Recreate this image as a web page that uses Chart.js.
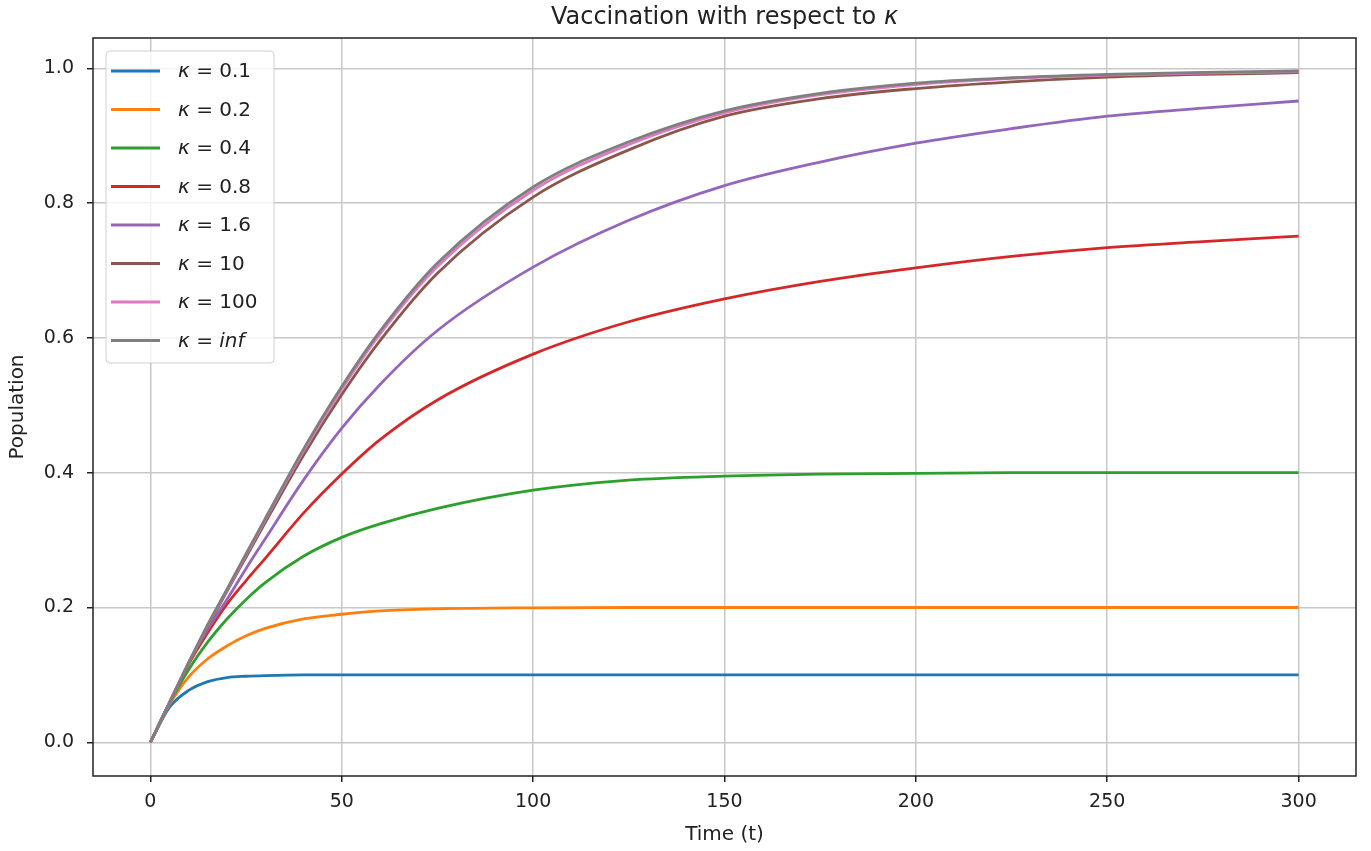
<!DOCTYPE html>
<html>
<head>
<meta charset="utf-8">
<title>Vaccination with respect to kappa</title>
<script src="https://cdn.jsdelivr.net/npm/chart.js@4.4.0/dist/chart.umd.min.js"></script>
<style>
  html, body { margin: 0; padding: 0; background: #fff; }
  #wrap { width: 1371px; height: 851px; }
</style>
</head>
<body>
<div id="wrap"><canvas id="chart" width="1371" height="851"></canvas></div>
<script>
// time samples (t)
const times = [0, 5, 10, 15, 20, 25, 30, 40, 50, 60, 75, 100, 125, 150, 175, 200, 225, 250, 275, 300];

// population per kappa value
const kappa01  = [0, 0.052, 0.077, 0.090, 0.096, 0.098, 0.099, 0.100, 0.100, 0.100, 0.100, 0.100, 0.100, 0.100, 0.100, 0.100, 0.100, 0.100, 0.100, 0.100];
const kappa02  = [0, 0.056, 0.097, 0.124, 0.143, 0.158, 0.169, 0.183, 0.190, 0.195, 0.198, 0.1995, 0.200, 0.200, 0.200, 0.200, 0.200, 0.200, 0.200, 0.200];
const kappa04  = [0, 0.058, 0.108, 0.149, 0.183, 0.212, 0.237, 0.276, 0.304, 0.324, 0.347, 0.374, 0.389, 0.395, 0.398, 0.399, 0.400, 0.400, 0.400, 0.400];
const kappa08  = [0, 0.059, 0.116, 0.163, 0.205, 0.240, 0.273, 0.340, 0.398, 0.449, 0.508, 0.576, 0.624, 0.658, 0.684, 0.704, 0.721, 0.734, 0.743, 0.751];
const kappa16  = [0, 0.059, 0.118, 0.168, 0.212, 0.258, 0.302, 0.389, 0.466, 0.531, 0.611, 0.705, 0.7745, 0.826, 0.861, 0.889, 0.9105, 0.929, 0.941, 0.9515];
const kappa10  = [0, 0.059, 0.118, 0.172, 0.224, 0.275, 0.326, 0.426, 0.516, 0.596, 0.696, 0.809, 0.879, 0.929, 0.955, 0.970, 0.980, 0.987, 0.991, 0.9935];
const kappa100 = [0, 0.059, 0.118, 0.174, 0.226, 0.278, 0.330, 0.432, 0.524, 0.606, 0.706, 0.819, 0.887, 0.934, 0.961, 0.976, 0.985, 0.990, 0.993, 0.995];
const kappaInf = [0, 0.059, 0.118, 0.175, 0.227, 0.280, 0.332, 0.435, 0.528, 0.610, 0.711, 0.824, 0.891, 0.937, 0.963, 0.978, 0.986, 0.991, 0.994, 0.996];

const seriesValues = [kappa01, kappa02, kappa04, kappa08, kappa16, kappa10, kappa100, kappaInf];
const seriesLabels = ['0.1', '0.2', '0.4', '0.8', '1.6', '10', '100', 'inf'];
const seriesColors = ['#1f77b4', '#ff7f0e', '#2ca02c', '#d62728', '#9467bd', '#8c564b', '#e377c2', '#7f7f7f'];

const xTicks = [0, 50, 100, 150, 200, 250, 300];
const yTicks = [0, 0.2, 0.4, 0.6, 0.8, 1.0];

const FONT = '"DejaVu Sans", sans-serif';
Chart.defaults.font.family = FONT;

// draw text pieces, some in italic (math kappa / inf)
function richWidth(ctx, parts, size) {
    let w = 0;
    parts.forEach(([txt, italic]) => {
        ctx.font = (italic ? 'italic ' : '') + size + 'px ' + FONT;
        w += ctx.measureText(txt).width;
    });
    return w;
}
function drawRich(ctx, parts, x, y, size) {
    parts.forEach(([txt, italic]) => {
        ctx.font = (italic ? 'italic ' : '') + size + 'px ' + FONT;
        ctx.fillText(txt, x, y);
        x += ctx.measureText(txt).width;
    });
}

const decor = {
    id: 'decor',
    afterDraw(chart) {
        const { ctx, chartArea: a } = chart;
        ctx.save();

        // axes frame
        ctx.strokeStyle = '#222';
        ctx.lineWidth = 1.5;
        ctx.strokeRect(a.left, a.top, a.right - a.left, a.bottom - a.top);

        // title
        ctx.fillStyle = '#222';
        ctx.textBaseline = 'alphabetic';
        const title = [['Vaccination with respect to ', false], ['κ', true]];
        const tw = richWidth(ctx, title, 24);
        drawRich(ctx, title, (a.left + a.right) / 2 - tw / 2, 24, 24);

        // legend box (upper left, inside the axes)
        ctx.beginPath();
        ctx.roundRect(106, 51, 168, 312, 4);
        ctx.fillStyle = 'rgba(255,255,255,0.8)';
        ctx.fill();
        ctx.strokeStyle = '#d0d0d0';
        ctx.lineWidth = 1;
        ctx.stroke();

        ctx.textBaseline = 'middle';
        seriesLabels.forEach((lab, i) => {
            const y = 71 + i * 38.5;
            ctx.strokeStyle = seriesColors[i];
            ctx.lineWidth = 2.8;
            ctx.beginPath();
            ctx.moveTo(111, y);
            ctx.lineTo(160, y);
            ctx.stroke();
            ctx.fillStyle = '#222';
            const parts = [['κ', true], [' = ', false], [lab, lab === 'inf']];
            drawRich(ctx, parts, 178, y + 1, 20);
        });

        ctx.restore();
    }
};

const datasets = seriesValues.map((vals, i) => ({
    label: 'κ = ' + seriesLabels[i],
    data: times.map((t, j) => ({ x: t, y: vals[j] })),
    borderColor: seriesColors[i],
    backgroundColor: seriesColors[i],
    borderWidth: 2.8,
    pointRadius: 0,
    fill: false,
    cubicInterpolationMode: 'monotone',
    order: seriesValues.length - i
}));

const tickFont = { family: FONT, size: 19 };
const gridStyle = { color: '#c8c8c8', lineWidth: 1.5, tickColor: '#222', tickLength: 6, tickWidth: 1.5 };

new Chart(document.getElementById('chart'), {
    type: 'line',
    data: { datasets },
    options: {
        responsive: false,
        animation: false,
        devicePixelRatio: 1,
        layout: { padding: { top: 38, right: 15, left: 0, bottom: 0 } },
        plugins: {
            legend: { display: false },
            title: { display: false },
            tooltip: { enabled: false }
        },
        scales: {
            x: {
                type: 'linear',
                min: -15,
                max: 315,
                afterBuildTicks: s => { s.ticks = xTicks.map(v => ({ value: v })); },
                afterFit: s => { s.height = 75; },
                grid: gridStyle,
                border: { display: false },
                ticks: { font: tickFont, color: '#222', padding: 9, maxRotation: 0, callback: v => String(v) },
                title: { display: true, text: 'Time (t)', color: '#222', font: { family: FONT, size: 20 }, padding: { top: 0, bottom: 4 } }
            },
            y: {
                type: 'linear',
                min: -0.05,
                max: 1.045,
                afterBuildTicks: s => { s.ticks = yTicks.map(v => ({ value: v })); },
                afterFit: s => { s.width = 93; },
                grid: gridStyle,
                border: { display: false },
                ticks: { font: tickFont, color: '#222', padding: 13, callback: v => v.toFixed(1) },
                title: { display: true, text: 'Population', color: '#222', font: { family: FONT, size: 20 }, padding: { top: 6, bottom: 0 } }
            }
        }
    },
    plugins: [decor]
});
</script>
</body>
</html>
